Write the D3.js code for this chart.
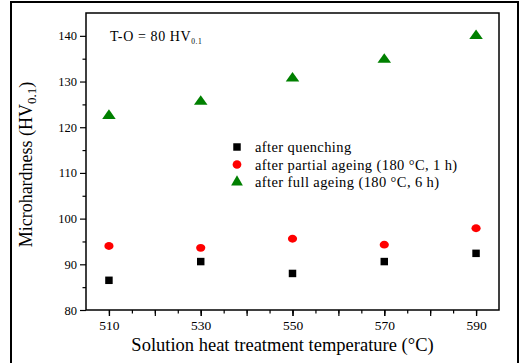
<!DOCTYPE html>
<html>
<head>
<meta charset="utf-8">
<script src="https://cdn.jsdelivr.net/npm/d3@7"></script>
<style>
  body { margin: 0; background: #fff; }
  svg text { font-family: "Liberation Serif", "Times New Roman", serif; fill: #000; }
</style>
</head>
<body>
<svg id="chart"></svg>
<script>
// data
const temps = [510, 530, 550, 570, 590];
const quenched = [86.5, 90.6, 88.0, 90.6, 92.4];
const partial = [94.0, 93.6, 95.6, 94.3, 97.9];
const full = [122.5, 125.6, 130.7, 134.8, 140.0];
const xLabels = [510, 530, 550, 570, 590];
const yLabels = [80, 90, 100, 110, 120, 130, 140];
const legendNames = ["after quenching", "after partial ageing (180 °C, 1 h)", "after full ageing (180 °C, 6 h)"];

const width = 522, height = 363;
const margin = { top: 13, right: 23, bottom: 53, left: 86 };
const w = width - margin.left - margin.right;
const h = height - margin.top - margin.bottom;

const svg = d3.select("#chart").attr("width", width).attr("height", height);

// outer frame
svg.append("rect")
  .attr("x", 11).attr("y", 2)
  .attr("width", 507).attr("height", 380)
  .attr("fill", "none").attr("stroke", "#000").attr("stroke-width", 2);

const g = svg.append("g").attr("transform", `translate(${margin.left},${margin.top})`);

const x = d3.scaleLinear().domain([505, 595]).range([0, w]);
const y = d3.scaleLinear().domain([80, 145]).range([h, 0]);

// minor ticks
g.append("g").attr("transform", `translate(0,${h})`)
  .call(d3.axisBottom(x).tickValues(d3.range(510, 595, 5)).tickSize(3.5).tickFormat(""))
  .call(a => a.select(".domain").remove());
g.append("g")
  .call(d3.axisLeft(y).tickValues(d3.range(85, 145, 10)).tickSize(3.5).tickFormat(""))
  .call(a => a.select(".domain").remove());

// major ticks
g.append("g").attr("transform", `translate(0,${h})`)
  .call(d3.axisBottom(x).tickValues(d3.range(510, 595, 10)).tickSize(6).tickFormat(""))
  .call(a => a.select(".domain").remove());
g.append("g")
  .call(d3.axisLeft(y).tickValues(yLabels).tickSize(6).tickPadding(3).tickFormat(d3.format("d")))
  .call(a => a.select(".domain").remove())
  .call(a => a.selectAll("text").style("font-size", "12.5px").style("font-family", "Liberation Serif"));
g.append("g").attr("transform", `translate(0,${h})`)
  .call(d3.axisBottom(x).tickValues(xLabels).tickSize(6).tickPadding(4).tickFormat(d3.format("d")))
  .call(a => a.select(".domain").remove())
  .call(a => a.selectAll("text").style("font-size", "13.5px").style("font-family", "Liberation Serif"));

g.selectAll(".tick line").attr("stroke", "#000").attr("stroke-width", 1.2);

// plot box
g.append("rect").attr("width", w).attr("height", h)
  .attr("fill", "none").attr("stroke", "#000").attr("stroke-width", 1.5);

// markers
const sym = {
  square: d3.symbol().type(d3.symbolSquare).size(56),
  circle: d3.symbol().type(d3.symbolCircle).size(60),
  triangle: d3.symbol().type(d3.symbolTriangle).size(60)
};

g.selectAll(".sq").data(temps).enter().append("path")
  .attr("d", sym.square)
  .attr("transform", (d, i) => `translate(${x(d)},${y(quenched[i])})`)
  .attr("fill", "#000");
g.selectAll(".ci").data(temps).enter().append("path")
  .attr("d", sym.circle)
  .attr("transform", (d, i) => `translate(${x(d)},${y(partial[i])}) scale(1.05,0.9)`)
  .attr("fill", "#ff0000");
g.selectAll(".tr").data(temps).enter().append("path")
  .attr("d", sym.triangle)
  .attr("transform", (d, i) => `translate(${x(d)},${y(full[i])}) scale(1.15,0.95)`)
  .attr("fill", "#008000");

// annotation
const ann = g.append("text").attr("x", 24).attr("y", 28)
  .style("font-size", "14px").style("letter-spacing", "0.6px");
ann.append("tspan").text("T-O = 80 HV");
ann.append("tspan").attr("dy", 3).style("font-size", "7.5px").text("0.1");

// legend
const legendSyms = [sym.square, sym.circle, sym.triangle];
const legendCols = ["#000", "#ff0000", "#008000"];
const leg = g.append("g").attr("transform", `translate(${237 - margin.left},${147 - margin.top})`);
legendNames.forEach((name, i) => {
  const row = leg.append("g").attr("transform", `translate(0,${i * 17.5})`);
  row.append("path").attr("d", legendSyms[i]).attr("fill", legendCols[i]);
  row.append("text").attr("x", 18).attr("y", 5)
    .style("font-size", "14.5px").style("letter-spacing", "0.4px").text(name);
});

// axis titles
svg.append("text")
  .attr("x", margin.left + w / 2 - 10).attr("y", 351)
  .attr("text-anchor", "middle").style("font-size", "18.5px")
  .text("Solution heat treatment temperature (°C)");

const yt = svg.append("text")
  .attr("transform", `translate(32,${margin.top + h / 2 + 3}) rotate(-90)`)
  .attr("text-anchor", "middle").style("font-size", "18px");
yt.append("tspan").text("Microhardness (HV");
yt.append("tspan").attr("dy", 4).style("font-size", "13px").text("0.1");
yt.append("tspan").attr("dy", -4).text(")");
</script>
</body>
</html>
